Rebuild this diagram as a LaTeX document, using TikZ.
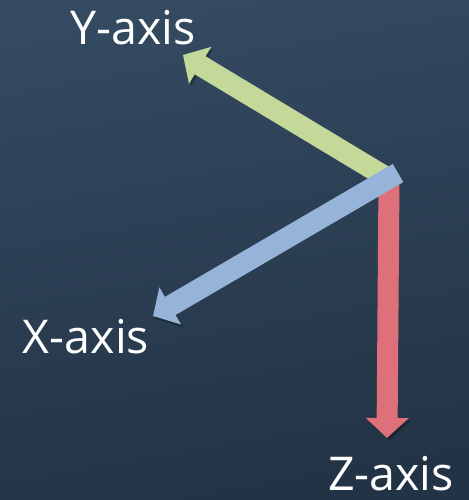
\documentclass[tikz,border=0pt]{standalone}
\usepackage{fontspec}
\setmainfont{Open Sans}
\usepackage{tikz}
\usetikzlibrary{arrows.meta, positioning, calc}
\definecolor{bgtop}{RGB}{52,74,97}
\definecolor{bgbot}{RGB}{34,51,69}
\definecolor{axgreen}{RGB}{196,216,154}
\definecolor{axblue}{RGB}{149,180,216}
\definecolor{axred}{RGB}{222,112,122}
\tikzset{
  axis/.style={line width=0.42cm, line cap=butt,
    -{Triangle[length=0.4cm, width=0.84cm]},
    preaction={draw=black, draw opacity=0.25, fill opacity=0.25,
      transform canvas={shift={(1.2pt,-1.5pt)}}}},
  lbl/.style={text=white, font=\fontsize{26.5}{31}\selectfont, anchor=base, inner sep=0pt}
}

\begin{document}
\begin{tikzpicture}[x=0.02cm, y=-0.02cm]

  \shade[top color=bgtop, bottom color=bgbot, shading angle=10] (0,0) rectangle (469,500);
  \useasboundingbox (0,0) rectangle (469,500);

  \coordinate (o) at (389,179);
  \coordinate (otail) at (398,173);
  \coordinate (ytip) at (183,55);
  \coordinate (xtip) at (153,316);
  \coordinate (ztip) at (387,438);

  \node[lbl] (ylab) at (133,45) {Y-axis};
  \node[lbl] (xlab) at (86,353) {X-axis};
  \node[lbl] (zlab) at (391,490) {Z-axis};

  \draw[axis, color=axgreen] (o) -- (ytip);
  \draw[axis, color=axred] (o) -- (ztip);
  \draw[axis, color=axblue] (otail) -- (xtip);

\end{tikzpicture}
\end{document}
